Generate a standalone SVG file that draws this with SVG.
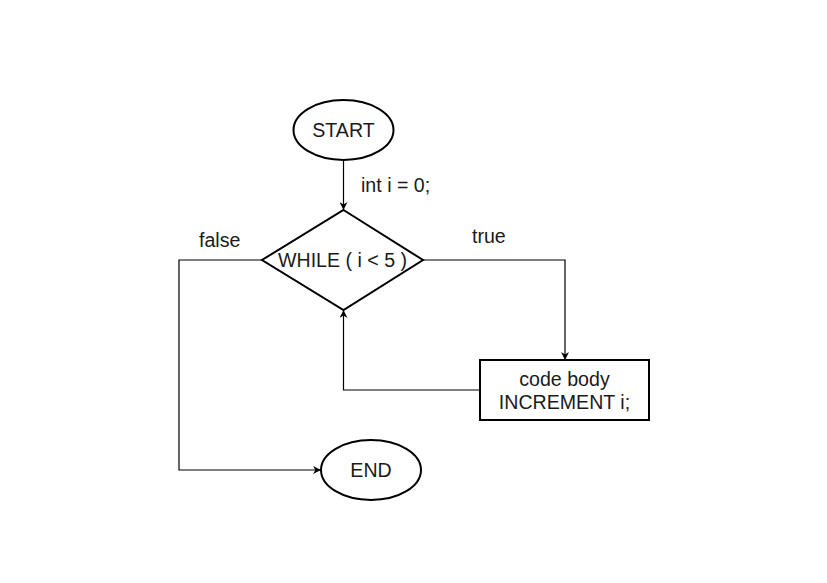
<svg xmlns="http://www.w3.org/2000/svg" width="827" height="583" viewBox="0 0 827 583">
<style>
.shape{fill:#ffffff;stroke:#000000;stroke-width:2}
.conn{fill:none;stroke:#000000;stroke-width:1.2}
text{font-family:"Liberation Sans",Arial,sans-serif;font-size:19.6px;fill:#1a1a1a}
.c{text-anchor:middle}
</style>
<defs>
<marker id="arr" viewBox="0 0 10 10" refX="10" refY="5" markerWidth="8" markerHeight="8" markerUnits="userSpaceOnUse" orient="auto">
<path d="M0,0 L10,5 L0,10 L3,5 Z" fill="#000000"/>
</marker>
</defs>
<rect width="827" height="583" fill="#ffffff"/>
<g id="connectors">
<path class="conn" d="M343.5,160 L343.5,210" marker-end="url(#arr)"/>
<path class="conn" d="M423,260 L565,260 L565,360" marker-end="url(#arr)"/>
<path class="conn" d="M480,390 L343.5,390 L343.5,310" marker-end="url(#arr)"/>
<path class="conn" d="M262,260 L179,260 L179,470 L321,470" marker-end="url(#arr)"/>
<text x="361" y="192">int i = 0;</text>
<text x="472" y="243">true</text>
<text x="199" y="247">false</text>
</g>
<g id="start">
<ellipse class="shape" cx="343.5" cy="130" rx="50" ry="30"/>
<text class="c" x="343.5" y="137">START</text>
</g>
<g id="while">
<polygon class="shape" points="343.5,210 423,260 343.5,310 262,260"/>
<text class="c" x="342.5" y="267">WHILE ( i &lt; 5 )</text>
</g>
<g id="body">
<rect class="shape" x="480" y="360" width="169" height="60"/>
<text class="c" x="564.5" y="386">code body</text>
<text class="c" x="564.5" y="409">INCREMENT i;</text>
</g>
<g id="end">
<ellipse class="shape" cx="371" cy="470" rx="50" ry="30"/>
<text class="c" x="371" y="477">END</text>
</g>
</svg>
